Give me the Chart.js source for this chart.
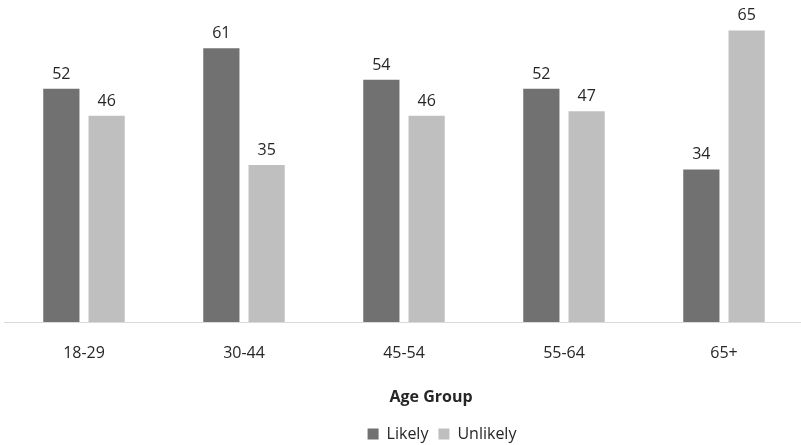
<!DOCTYPE html>
<html>
<head>
<meta charset="utf-8">
<script src="https://cdn.jsdelivr.net/npm/chart.js@4"></script>
<style>
  html, body { margin: 0; padding: 0; background: #fff; overflow: hidden; }
  #wrap { width: 880px; height: 452px; }
</style>
</head>
<body>
<div id="wrap"><canvas id="ageChart"></canvas></div>
<script>
// chart values
const ageGroups = ['18-29', '30-44', '45-54', '55-64', '65+'];
const likely = [52, 61, 54, 52, 34];
const unlikely = [46, 35, 46, 47, 65];
const axisTitle = 'Age Group';

const textColor = '#262626';
const fontFamily = '"Open Sans", "Liberation Sans", sans-serif';

// value labels above each bar
const barLabels = {
  id: 'barLabels',
  afterDatasetsDraw(chart) {
    const ctx = chart.ctx;
    ctx.save();
    ctx.font = '16px ' + fontFamily;
    ctx.fillStyle = textColor;
    ctx.textAlign = 'center';
    ctx.textBaseline = 'alphabetic';
    chart.data.datasets.forEach(function (ds, i) {
      chart.getDatasetMeta(i).data.forEach(function (bar, j) {
        ctx.fillText(ds.data[j], bar.x, bar.y - 10);
      });
    });
    ctx.restore();
  }
};

// axis title, sits a little right of the plot centre like the original
const xTitle = {
  id: 'xTitle',
  afterDraw(chart) {
    const ctx = chart.ctx;
    const area = chart.chartArea;
    ctx.save();
    ctx.font = 'bold 16px ' + fontFamily;
    ctx.fillStyle = textColor;
    ctx.textAlign = 'center';
    ctx.textBaseline = 'middle';
    ctx.fillText(axisTitle, (area.left + area.right) / 2 + 27, area.bottom + 75);
    ctx.restore();
  }
};

const ctx = document.getElementById('ageChart').getContext('2d');
new Chart(ctx, {
  type: 'bar',
  data: {
    labels: ageGroups,
    datasets: [
      {
        label: 'Likely',
        data: likely,
        backgroundColor: '#717171',
        barPercentage: 0.8,
        categoryPercentage: 0.566
      },
      {
        label: 'Unlikely',
        data: unlikely,
        backgroundColor: '#bfbfbf',
        barPercentage: 0.8,
        categoryPercentage: 0.566
      }
    ]
  },
  options: {
    responsive: true,
    maintainAspectRatio: false,
    animation: false,
    layout: { padding: { left: 4, top: 8, right: 0, bottom: 0 } },
    scales: {
      x: {
        grid: { display: false, drawTicks: false },
        border: { display: true, color: '#d9d9d9', width: 1 },
        ticks: { color: textColor, font: { family: fontFamily, size: 16 }, padding: 22 },
        afterFit(scale) { scale.height = 94; }
      },
      y: {
        min: 0,
        max: 70,
        display: false
      },
      y2: {
        position: 'right',
        grid: { display: false },
        border: { display: false },
        ticks: { display: false },
        afterFit(scale) { scale.width = 76; }
      }
    },
    plugins: {
      legend: {
        position: 'bottom',
        labels: {
          color: textColor,
          font: { family: fontFamily, size: 16 },
          boxWidth: 11,
          boxHeight: 11,
          padding: 10
        }
      },
      tooltip: { enabled: false }
    }
  },
  plugins: [barLabels, xTitle]
});
</script>
</body>
</html>
